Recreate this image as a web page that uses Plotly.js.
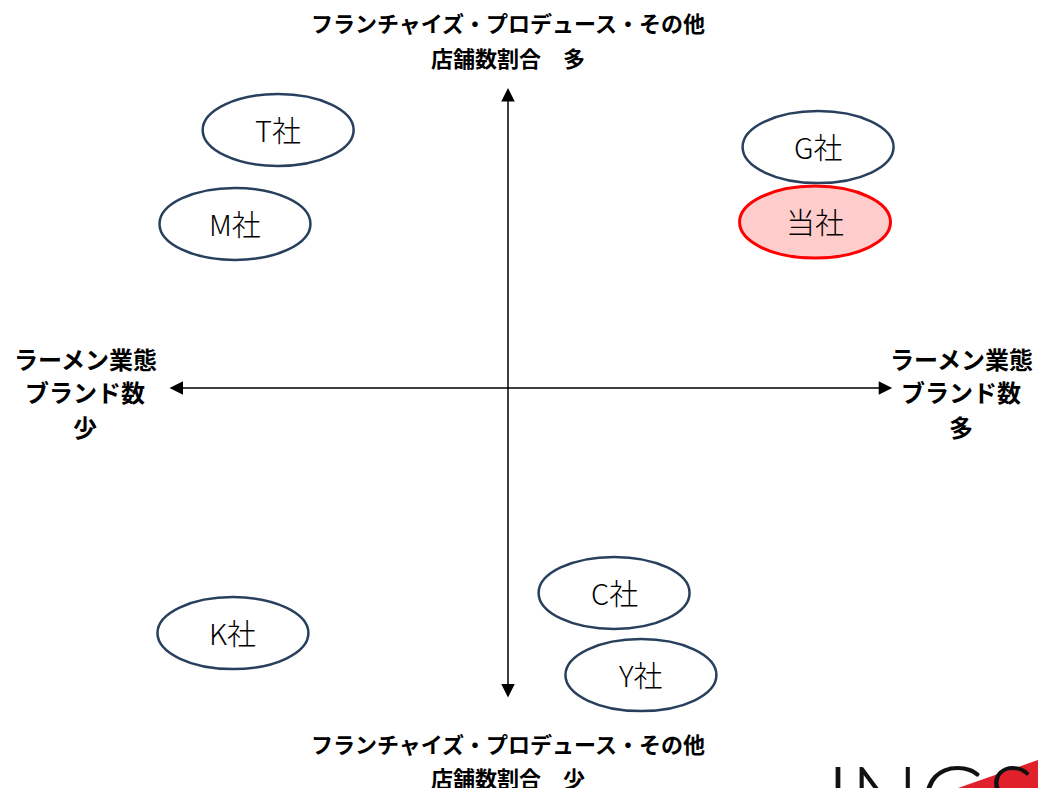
<!DOCTYPE html>
<html>
<head>
<meta charset="utf-8">
<script src="https://cdn.plot.ly/plotly-3.0.1.min.js"></script>
<style>html,body{margin:0;padding:0;background:#fff;}#chart{width:1038px;height:788px;}</style>
</head>
<body>
<div id="chart"></div>
<script>
// ---- data (positioning map scores) ----
const companies = ['T社', 'M社', 'G社', '当社', 'C社', 'K社', 'Y社'];
// x: ラーメン業態ブランド数 (少 → 多)
const brandScore = [-6.76, -8.03, 9.12, 9.03, 3.12, -8.09, 3.91];
// y: フランチャイズ・プロデュース・その他店舗数割合 (少 → 多)
const fcShareScore = [8.6, 5.47, 8.03, 5.53, -6.83, -8.17, -9.57];
const ownCompany = '当社';

const topLabel = ['フランチャイズ・プロデュース・その他', '店舗数割合\u3000多'];
const bottomLabel = ['フランチャイズ・プロデュース・その他', '店舗数割合\u3000少'];
const leftLabel = ['ラーメン業態', 'ブランド数', '少'];
const rightLabel = ['ラーメン業態', 'ブランド数', '多'];

// ---- layout helpers ----
const W = 1038, H = 788;
const X_RANGE = [-14.941, 15.588];
const Y_RANGE = [-13.333, 12.933];
const AX = {xMin: -10, xMax: 11.3, yMin: -10.37, yMax: 10};
const ELL_W = 4.44, ELL_H = 2.4;
const px = v => v / W;
const py = v => 1 - v / H;
const JP = '"Noto Sans CJK JP", "Noto Sans", sans-serif';

const shapes = companies.map((c, i) => {
  const own = c === ownCompany;
  return {
    type: 'circle', xref: 'x', yref: 'y',
    x0: brandScore[i] - ELL_W / 2, x1: brandScore[i] + ELL_W / 2,
    y0: fcShareScore[i] - ELL_H / 2, y1: fcShareScore[i] + ELL_H / 2,
    line: {color: own ? '#FF0000' : '#28405E', width: own ? 3 : 2.5},
    fillcolor: own ? '#FFCCCC' : 'rgba(0,0,0,0)',
    layer: 'below'
  };
});
// logo swoosh (decoration)
shapes.push({
  type: 'path', xref: 'paper', yref: 'paper',
  path: `M ${px(958)} ${py(788)} L ${px(1038)} ${py(760)} L ${px(1038)} ${py(788)} Z`,
  fillcolor: '#E0202A', line: {width: 0}
});

const annotations = [];
// axes arrows (double headed)
annotations.push({
  x: 0, y: AX.yMax, ax: 0, ay: AX.yMin, xref: 'x', yref: 'y', axref: 'x', ayref: 'y',
  text: '', showarrow: true, arrowhead: 2, startarrowhead: 2, arrowside: 'end+start',
  arrowsize: 1.8, startarrowsize: 1.8, arrowwidth: 1.5, arrowcolor: '#000'
});
annotations.push({
  x: AX.xMax, y: 0, ax: AX.xMin, ay: 0, xref: 'x', yref: 'y', axref: 'x', ayref: 'y',
  text: '', showarrow: true, arrowhead: 2, startarrowhead: 2, arrowside: 'end+start',
  arrowsize: 1.8, startarrowsize: 1.8, arrowwidth: 1.5, arrowcolor: '#000'
});

// company labels, placed through the axes' scales
companies.forEach((c, i) => {
  annotations.push({
    xref: 'x', yref: 'y', x: brandScore[i], y: fcShareScore[i], yshift: 1,
    xanchor: 'center', yanchor: 'middle', showarrow: false, text: c,
    font: {family: JP, size: 29, color: '#000', weight: 300}
  });
});

function addLines(lines, cx, yStart, step, size) {
  lines.forEach((t, k) => {
    annotations.push({
      xref: 'paper', yref: 'paper', x: px(cx), y: py(yStart + k * step),
      xanchor: 'center', yanchor: 'middle', showarrow: false,
      text: '<b>' + t + '</b>', font: {family: JP, size: size, color: '#000'}
    });
  });
}
addLines(topLabel, 508, 22, 35, 22);
addLines(bottomLabel, 508, 743, 34, 22);
addLines(leftLabel, 85, 358, 34, 24);
addLines(rightLabel, 961, 358, 34, 24);

// logo text (cropped at the bottom of the page)
annotations.push({
  xref: 'paper', yref: 'paper', x: px(824), y: py(740), xanchor: 'left', yanchor: 'top',
  showarrow: false, text: 'INGS',
  font: {family: 'Lato, "Open Sans", sans-serif', size: 92, color: '#111', weight: 300}
});

const trace = {
  type: 'scatter', mode: 'markers',
  x: brandScore, y: fcShareScore, text: companies,
  marker: {size: 1, opacity: 0},
  hoverinfo: 'skip', showlegend: false
};

const layout = {
  width: W, height: H,
  margin: {l: 0, r: 0, t: 0, b: 0, pad: 0},
  paper_bgcolor: '#fff', plot_bgcolor: '#fff',
  xaxis: {range: X_RANGE, visible: false, fixedrange: true},
  yaxis: {range: Y_RANGE, visible: false, fixedrange: true},
  shapes: shapes, annotations: annotations, showlegend: false
};

Plotly.newPlot('chart', [trace], layout, {displayModeBar: false, staticPlot: true});
</script>
</body>
</html>
